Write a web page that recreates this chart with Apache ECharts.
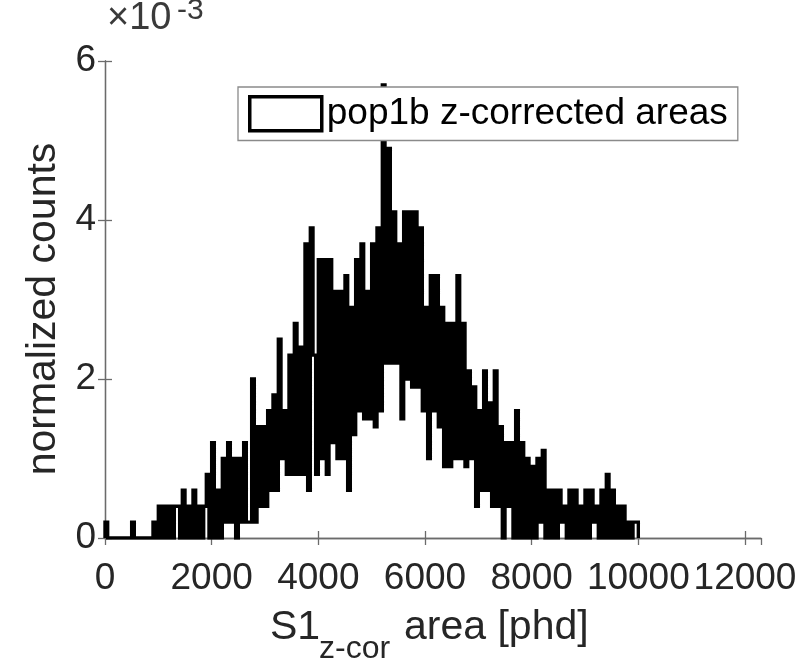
<!DOCTYPE html>
<html><head><meta charset="utf-8">
<script src="https://cdn.jsdelivr.net/npm/echarts@6/dist/echarts.min.js"></script>
<style>html,body{margin:0;padding:0;background:#fff}#c{width:808px;height:662px}</style>
</head><body><div id="c"></div>
<script>
// Histogram (stairs) of S1 z-corrected areas, normalized counts in units of 1e-3
const binStart = 0;
const binWidth = 50;
const counts = [
  0.2,0,0,0,0,0,0,0,0,0,
  0.2,0,0,0,0,0,0,0,0.2,0,
  0.4,0,0.4,0,0.4,0,0.4,0.4,0,0.6,
  0,0.4,0,0.6,0,0.4,0,0.4,0.8,0,
  1.2,0,0.6,0,1.0,0.2,1.2,0.2,1.0,0,
  1.0,0.2,1.2,0.2,0.2,2.0,0.2,1.4,0.4,1.4,
  0.4,1.6,0.6,1.8,0.6,2.5,1.0,1.6,0.8,2.3,
  0.8,2.7,0.8,2.4,0.8,3.7,0.6,3.9,2.3,0.8,
  3.5,1.0,3.5,0.8,3.5,1.2,3.1,1.0,3.1,1.0,
  3.3,0.6,2.9,1.3,3.5,1.6,3.7,1.5,3.1,1.5,
  3.7,1.4,3.9,1.6,5.7,2.2,4.9,2.2,4.1,2.2,
  3.7,1.5,4.1,2.0,4.1,1.9,4.1,1.9,3.9,1.6,
  2.9,1.0,3.3,1.6,3.3,1.4,2.9,0.9,2.7,0.9,
  2.7,1.0,3.3,1.0,2.7,0.9,2.1,1.0,1.9,0.4,
  1.6,0.6,2.1,0.6,1.7,0.4,2.1,0.4,1.4,0,
  1.2,0.4,1.2,0,1.6,0,1.2,0,1.0,0,
  0.9,0,1.0,0.2,1.1,0,0.6,0,0.6,0,
  0.6,0.2,0.4,0,0.6,0,0.6,0,0.4,0,
  0.6,0,0.6,0.2,0.4,0,0.6,0,0.8,0,
  0.6,0,0.4,0,0.4,0,0.2,0,0.2,0.2
];
const xRange = [0, 12300];
const xTickStep = 2000;
const yRange = [0, 6];
const yTickStep = 2;
const seriesName = 'pop1b z-corrected areas';

const FONT = 'Liberation Sans';
const pts = [[binStart, 0]];
counts.forEach((v, i) => pts.push([binStart + i * binWidth, v]));
pts.push([binStart + counts.length * binWidth, 0]);

const axisLine = {show: true, lineStyle: {color: '#6b6b6b', width: 1.3}};
const tick = {show: true, inside: true, length: 7, lineStyle: {color: '#6b6b6b', width: 1.3}};

const chart = echarts.init(document.getElementById('c'), null, {renderer: 'canvas'});
chart.setOption({
  animation: false,
  backgroundColor: '#fff',
  grid: {left: 105, right: 47, top: 61, bottom: 124, show: false},
  xAxis: [
    {type: 'value', min: xRange[0], max: xRange[1], interval: xTickStep,
     axisLine, axisTick: tick, splitLine: {show: false},
     axisLabel: {fontFamily: FONT, fontSize: 37, color: '#262626', margin: 22, showMaxLabel: false,
                 formatter: v => String(v)}},
    {type: 'value', position: 'top', min: xRange[0], max: xRange[1], interval: xTickStep,
     axisLine, axisTick: tick, splitLine: {show: false}, axisLabel: {show: false}}
  ],
  yAxis: [
    {type: 'value', min: yRange[0], max: yRange[1], interval: yTickStep,
     axisLine, axisTick: tick, splitLine: {show: false},
     axisLabel: {fontFamily: FONT, fontSize: 37, color: '#262626', margin: 9, formatter: v => String(v)}},
    {type: 'value', position: 'right', min: yRange[0], max: yRange[1], interval: yTickStep,
     axisLine, axisTick: tick, splitLine: {show: false}, axisLabel: {show: false}}
  ],
  legend: {
    left: 238, top: 87, orient: 'horizontal',
    padding: [8, 10, 8, 10],
    backgroundColor: '#fff', borderColor: '#8a8a8a', borderWidth: 1.3,
    itemWidth: 72, itemHeight: 34,
    textStyle: {fontFamily: FONT, fontSize: 37, color: '#000'},
    data: [{name: seriesName, icon: 'rect',
            itemStyle: {color: '#fff', borderColor: '#000', borderWidth: 3.5}}]
  },
  series: [{
    name: seriesName, type: 'line', step: 'end', showSymbol: false, symbol: 'none',
    data: pts, lineStyle: {color: '#000', width: 3.4, join: 'miter'}, itemStyle: {color: '#000'},
    z: 2
  }],
  graphic: [
    {type: 'text', left: 107, top: 0, style: {text: '×10', font: '38px "Liberation Sans"', fill: '#3a3a3a'}},
    {type: 'text', left: 177, top: -4, style: {text: '-3', font: '30px "Liberation Sans"', fill: '#3a3a3a'}},
    {type: 'text', x: 44, y: 309, rotation: Math.PI / 2,
     style: {text: 'normalized counts', font: '41px "Liberation Sans"', fill: '#262626', align: 'center', verticalAlign: 'middle'}},
    {type: 'text', x: 270, y: 628, style: {text: 'S1', font: '41px "Liberation Sans"', fill: '#262626', verticalAlign: 'middle'}},
    {type: 'text', x: 319, y: 649, style: {text: 'z-cor', font: '32px "Liberation Sans"', fill: '#262626', verticalAlign: 'middle'}},
    {type: 'text', x: 404, y: 628, style: {text: 'area [phd]', font: '41px "Liberation Sans"', fill: '#262626', verticalAlign: 'middle'}}
  ]
});
</script></body></html>
